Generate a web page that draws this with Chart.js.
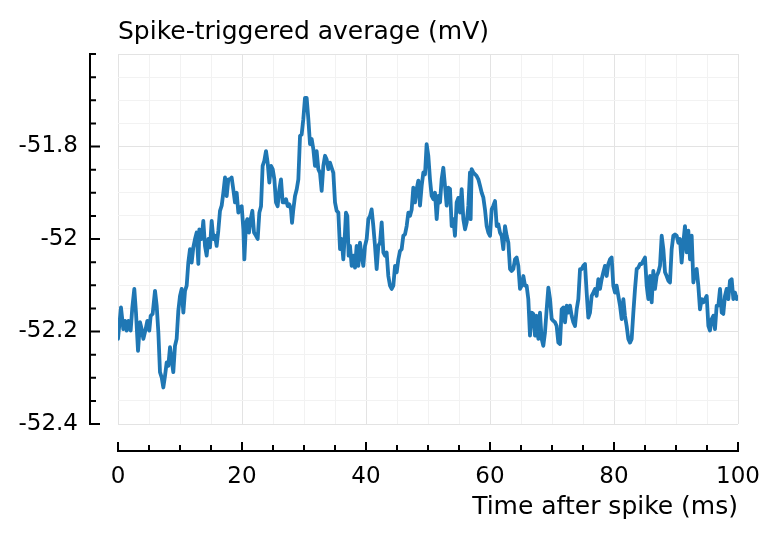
<!DOCTYPE html>
<html>
<head>
<meta charset="utf-8">
<script src="https://cdn.jsdelivr.net/npm/chart.js@4.4.1/dist/chart.umd.min.js"></script>
<style>
  html, body { margin: 0; padding: 0; background: #fff; }
  #wrap { width: 779px; height: 540px; }
</style>
</head>
<body>
<div id="wrap"><canvas id="staChart" width="779" height="540"></canvas></div>
<script>
// tiempo despues del spike (ms)
const timeMs = [
  0.00, 0.48, 0.86, 1.13, 1.40, 1.67, 2.04, 2.31, 2.63, 2.90, 3.23, 3.55, 3.82, 4.09, 4.41, 4.73, 5.05, 5.27, 5.59, 5.97,
  6.24, 6.51, 6.77, 7.04, 7.31, 7.58, 7.85, 8.12, 8.39, 8.66, 8.92, 9.19, 9.46, 9.73, 10.00, 10.27, 10.54, 10.81, 11.08, 11.34,
  11.61, 11.88, 12.15, 12.42, 12.69, 12.96, 13.12, 13.49, 13.76, 14.03, 14.30, 14.57, 14.84, 15.11, 15.38, 15.65, 15.91, 16.18, 16.45, 16.72,
  16.99, 17.26, 17.53, 17.80,
  18.07, 18.33, 18.60, 18.87, 19.14, 19.41, 19.68, 19.95, 20.22, 20.38, 20.65, 20.86, 21.13, 21.40, 21.67, 21.94, 22.26, 22.53, 22.80, 23.07,
  23.33, 23.60, 23.87, 24.14, 24.41, 24.68, 24.95, 25.22, 25.48, 25.75, 26.02, 26.29, 26.56, 26.83, 27.10, 27.37, 27.63, 27.90, 28.07, 28.28,
  28.55, 28.82, 29.09, 29.36, 29.62, 29.89, 30.16, 30.43, 30.70, 30.97, 31.24, 31.51, 31.77, 32.04, 32.31, 32.58, 32.85, 33.12, 33.39, 33.66,
  33.92, 34.19, 34.46, 34.73, 35.00, 35.27, 35.54, 35.81, 36.08, 36.34, 36.61, 36.77, 36.99, 37.20,
  37.42, 37.69, 37.96, 38.23, 38.49, 38.76, 39.03, 39.30, 39.57, 39.84, 40.11, 40.38, 40.65, 40.91, 41.18, 41.45, 41.72, 41.99, 42.26, 42.53,
  42.80, 43.06, 43.33, 43.60, 43.87, 44.14, 44.41, 44.68, 44.95, 45.22, 45.48, 45.75, 46.02, 46.29, 46.56, 46.83, 47.10, 47.37, 47.63, 47.90,
  48.17, 48.44, 48.71, 48.98, 49.25, 49.52, 49.78, 50.05, 50.32, 50.59, 50.86, 51.13, 51.40, 51.67, 51.94, 52.20, 52.47, 52.74, 53.01, 53.28,
  53.55, 53.82, 54.09, 54.35, 54.62, 54.89, 55.16, 55.43, 55.70, 55.97, 56.24, 56.51,
  56.77, 56.88, 57.04, 57.31, 57.58, 57.85, 58.12, 58.39, 58.66, 58.92, 59.19, 59.46, 59.73, 60.00, 60.27, 60.54, 60.81, 61.08, 61.34, 61.61,
  61.88, 62.15, 62.42, 62.69, 62.96, 63.23, 63.49, 63.76, 64.03, 64.30, 64.57, 64.84, 65.11, 65.38, 65.65, 65.91, 66.18, 66.45, 66.72, 66.99,
  67.26, 67.53, 67.80, 68.06, 68.33, 68.60, 68.87, 69.14, 69.41, 69.68, 69.95, 70.22, 70.48, 70.75, 71.02, 71.29, 71.56, 71.83, 72.10, 72.37,
  72.63, 72.90, 73.17, 73.44, 73.71, 73.98, 74.25, 74.52, 74.78, 75.05, 75.32, 75.59, 75.86, 76.13, 76.40, 76.67, 76.94, 77.20, 77.47,
  77.74, 78.01, 78.28, 78.55, 78.82, 79.09, 79.36, 79.62, 79.89, 80.16, 80.43, 80.70, 80.97, 81.24, 81.51, 81.77, 82.04, 82.31, 82.58, 82.85,
  83.12, 83.39, 83.66, 83.92, 84.19, 84.46, 84.73, 85.00, 85.27, 85.54, 85.81, 86.08, 86.34, 86.61, 86.88, 87.15, 87.42, 87.69, 87.96, 88.23,
  88.49, 88.76, 89.03, 89.30, 89.57, 89.84, 90.11, 90.38, 90.64, 90.91, 91.18, 91.45, 91.72, 91.99, 92.26, 92.53, 92.80, 93.06, 93.33, 93.60,
  93.87, 94.14, 94.41, 94.68, 94.95, 95.22, 95.48, 95.75, 96.02, 96.29, 96.56, 96.83, 97.10, 97.37, 97.63, 97.90, 98.17, 98.44, 98.71, 98.98,
  99.25, 99.52, 99.78, 100.00
]

// promedio disparado por spike (mV)
const staMv = [
  -52.216, -52.148, -52.195, -52.177, -52.198, -52.177, -52.198, -52.148, -52.108, -52.159, -52.242, -52.180, -52.195, -52.216, -52.198, -52.177, -52.198, -52.166, -52.162, -52.112,
  -52.144, -52.202, -52.288, -52.299, -52.321, -52.296, -52.267, -52.274, -52.234, -52.263, -52.288, -52.231, -52.216, -52.155, -52.123, -52.108, -52.159, -52.112, -52.101, -52.051,
  -52.022, -52.051, -52.018, -52.000, -51.986, -52.054, -51.979, -52.000, -51.961, -52.015, -52.036, -52.000, -52.018, -51.961, -52.000, -51.993, -52.015, -51.982, -51.939, -51.928,
  -51.900, -51.867, -51.907, -51.871,
  -51.871, -51.867, -51.893, -51.921, -51.900, -51.943, -51.932, -51.929, -51.979, -52.044, -51.965, -51.957, -51.986, -51.957, -51.939, -51.986, -51.993, -52.000, -51.943, -51.929,
  -51.842, -51.831, -51.810, -51.835, -51.878, -51.842, -51.849, -51.871, -51.921, -51.929, -51.893, -51.871, -51.921, -51.921, -51.914, -51.929, -51.925, -51.936, -51.965, -51.936,
  -51.907, -51.893, -51.871, -51.777, -51.774, -51.741, -51.695, -51.695, -51.741, -51.795, -51.784, -51.806, -51.842, -51.810, -51.849, -51.857, -51.896, -51.842, -51.820, -51.828,
  -51.849, -51.835, -51.846, -51.857, -51.921, -51.939, -51.943, -52.022, -52.000, -52.044, -51.986, -51.943, -51.950, -52.036,
  -52.015, -52.058, -52.036, -52.062, -52.015, -52.058, -52.008, -52.036, -52.058, -52.015, -52.000, -51.957, -51.950, -51.936, -51.972, -52.015, -52.065, -52.015, -52.008, -51.964,
  -52.029, -52.036, -52.029, -52.080, -52.101, -52.108, -52.101, -52.058, -52.072, -52.044, -52.026, -52.022, -51.993, -51.990, -51.972, -51.943, -51.950, -51.936, -51.889, -51.921,
  -51.892, -51.874, -51.928, -51.885, -51.856, -51.860, -51.795, -51.820, -51.871, -51.907, -51.914, -51.900, -51.957, -51.907, -51.921, -51.871, -51.846, -51.885, -51.928, -51.889,
  -51.892, -51.972, -51.957, -51.993, -51.921, -51.911, -51.943, -51.892, -51.957, -51.979, -51.964, -51.928,
  -51.856, -51.957, -51.849, -51.856, -51.860, -51.864, -51.871, -51.885, -51.900, -51.910, -51.936, -51.972, -51.986, -51.993, -51.936, -51.928, -51.918, -51.972, -51.968, -51.986,
  -51.993, -52.022, -51.972, -51.993, -52.008, -52.065, -52.069, -52.065, -52.044, -52.040, -52.058, -52.108, -52.101, -52.080, -52.101, -52.101, -52.130, -52.209, -52.159, -52.162,
  -52.209, -52.166, -52.216, -52.159, -52.216, -52.231, -52.202, -52.152, -52.105, -52.130, -52.173, -52.177, -52.180, -52.188, -52.224, -52.227, -52.152, -52.148, -52.180, -52.144,
  -52.159, -52.144, -52.166, -52.180, -52.188, -52.152, -52.130, -52.065, -52.065, -52.058, -52.054, -52.116, -52.170, -52.159, -52.123, -52.116, -52.108, -52.123, -52.087,
  -52.108, -52.087, -52.072, -52.058, -52.080, -52.054, -52.044, -52.040, -52.101, -52.116, -52.101, -52.123, -52.144, -52.173, -52.130, -52.166, -52.188, -52.216, -52.224, -52.216,
  -52.159, -52.108, -52.065, -52.062, -52.054, -52.054, -52.047, -52.040, -52.101, -52.130, -52.080, -52.137, -52.069, -52.108, -52.080, -52.072, -52.058, -51.993, -52.022, -52.072,
  -52.080, -52.090, -52.094, -52.022, -51.993, -51.990, -51.993, -52.008, -52.000, -52.051, -52.008, -51.972, -52.029, -51.982, -52.044, -51.993, -52.094, -52.072, -52.065, -52.101,
  -52.152, -52.130, -52.137, -52.130, -52.123, -52.188, -52.198, -52.173, -52.166, -52.195, -52.144, -52.144, -52.108, -52.159, -52.162, -52.123, -52.108, -52.130, -52.090, -52.087,
  -52.130, -52.116, -52.130, -52.126
]

// etiquetas de los ejes
const xTickValues = [0, 20, 40, 60, 80, 100]
const yTickValues = [-51.8, -52, -52.2, -52.4]
const yTickLabels = ['-51.8', '-52', '-52.2', '-52.4']

const xMin = 0, xMax = 100, xStep = 5
const yMin = -52.4, yMax = -51.6, yStep = 0.05

const lineColor = '#1f77b4'
const gridMajor = '#e3e3e3'
const gridMinor = '#f2f2f2'

const isClose = (a, b) => Math.abs(a - b) < 1e-6
const isMajorX = (v) => xTickValues.some((t) => isClose(t, v))
const isMajorY = (v) => yTickValues.some((t) => isClose(t, v))

// ejes separados del area del grafico (estilo "spines")
const offsetSpines = {
    id: 'offsetSpines',
    afterDraw(chart) {
        const { ctx, chartArea } = chart
        const xs = chart.scales.x
        const ys = chart.scales.y
        const gap = 27
        ctx.save()
        ctx.strokeStyle = '#000'
        ctx.lineWidth = 2
        ctx.lineCap = 'butt'

        // eje x
        const yb = chartArea.bottom + gap
        ctx.beginPath()
        ctx.moveTo(xs.getPixelForValue(xMin) - 1, yb)
        ctx.lineTo(xs.getPixelForValue(xMax) + 1, yb)
        xs.ticks.forEach((t) => {
            const px = xs.getPixelForValue(t.value)
            const len = isMajorX(t.value) ? 9 : 6
            ctx.moveTo(px, yb)
            ctx.lineTo(px, yb - len)
        })
        ctx.stroke()

        // eje y
        const xl = chartArea.left - gap - 1
        ctx.beginPath()
        ctx.moveTo(xl, ys.getPixelForValue(yMax) - 1)
        ctx.lineTo(xl, ys.getPixelForValue(yMin) + 1)
        ys.ticks.forEach((t) => {
            const py = ys.getPixelForValue(t.value)
            const len = isMajorY(t.value) ? 10 : 6
            ctx.moveTo(xl, py)
            ctx.lineTo(xl + len, py)
        })
        ctx.stroke()
        ctx.restore()
    }
}

Chart.defaults.font.family = "'DejaVu Sans', sans-serif"
Chart.defaults.color = '#000'

const ctxChart = document.getElementById('staChart')

new Chart(ctxChart, {
    type: 'line',
    data: {
        datasets: [{
            label: 'STA',
            data: timeMs.map((t, i) => ({ x: t, y: staMv[i] })),
            borderColor: lineColor,
            borderWidth: 3.8,
            pointRadius: 0,
            tension: 0,
            borderJoinStyle: 'round',
            borderCapStyle: 'round'
        }]
    },
    options: {
        responsive: false,
        animation: false,
        devicePixelRatio: 1,
        layout: { padding: { left: 0, right: 41, top: 0, bottom: 0 } },
        plugins: {
            legend: { display: false },
            tooltip: { enabled: false }
        },
        scales: {
            x: {
                type: 'linear',
                min: xMin,
                max: xMax,
                afterFit: (scale) => {
                    scale.height = 116
                    scale.paddingLeft = 0
                    scale.paddingRight = 0
                },
                border: { display: false },
                grid: {
                    drawTicks: false,
                    color: (c) => isMajorX(c.tick.value) ? gridMajor : gridMinor,
                    lineWidth: 1
                },
                ticks: {
                    stepSize: xStep,
                    autoSkip: false,
                    maxRotation: 0,
                    padding: 39,
                    font: { size: 23 },
                    callback: (v) => isMajorX(v) ? String(Math.round(v)) : ''
                },
                title: {
                    display: true,
                    text: 'Time after spike (ms)',
                    align: 'end',
                    font: { size: 25 },
                    padding: { top: 18, bottom: 18 }
                }
            },
            xTop: {
                type: 'linear',
                position: 'top',
                min: xMin,
                max: xMax,
                afterFit: (scale) => {
                    scale.height = 54
                    scale.paddingLeft = 0
                    scale.paddingRight = 0
                },
                border: { display: false },
                grid: { display: false, drawTicks: false },
                ticks: { display: false },
                title: {
                    display: true,
                    text: 'Spike-triggered average (mV)',
                    align: 'start',
                    font: { size: 25 },
                    padding: { top: 17, bottom: 0 }
                }
            },
            y: {
                type: 'linear',
                min: yMin,
                max: yMax,
                afterFit: (scale) => {
                    scale.width = 118
                    scale.paddingTop = 0
                    scale.paddingBottom = 0
                },
                border: { display: false },
                grid: {
                    drawTicks: false,
                    color: (c) => isMajorY(c.tick.value) || isClose(c.tick.value, yMax) ? gridMajor : gridMinor,
                    lineWidth: 1
                },
                ticks: {
                    stepSize: yStep,
                    autoSkip: false,
                    padding: 40,
                    font: { size: 23 },
                    callback: (v) => {
                        const i = yTickValues.findIndex((t) => isClose(t, v))
                        return i >= 0 ? yTickLabels[i] : ''
                    }
                }
            }
        }
    },
    plugins: [offsetSpines]
})
</script>
</body>
</html>
